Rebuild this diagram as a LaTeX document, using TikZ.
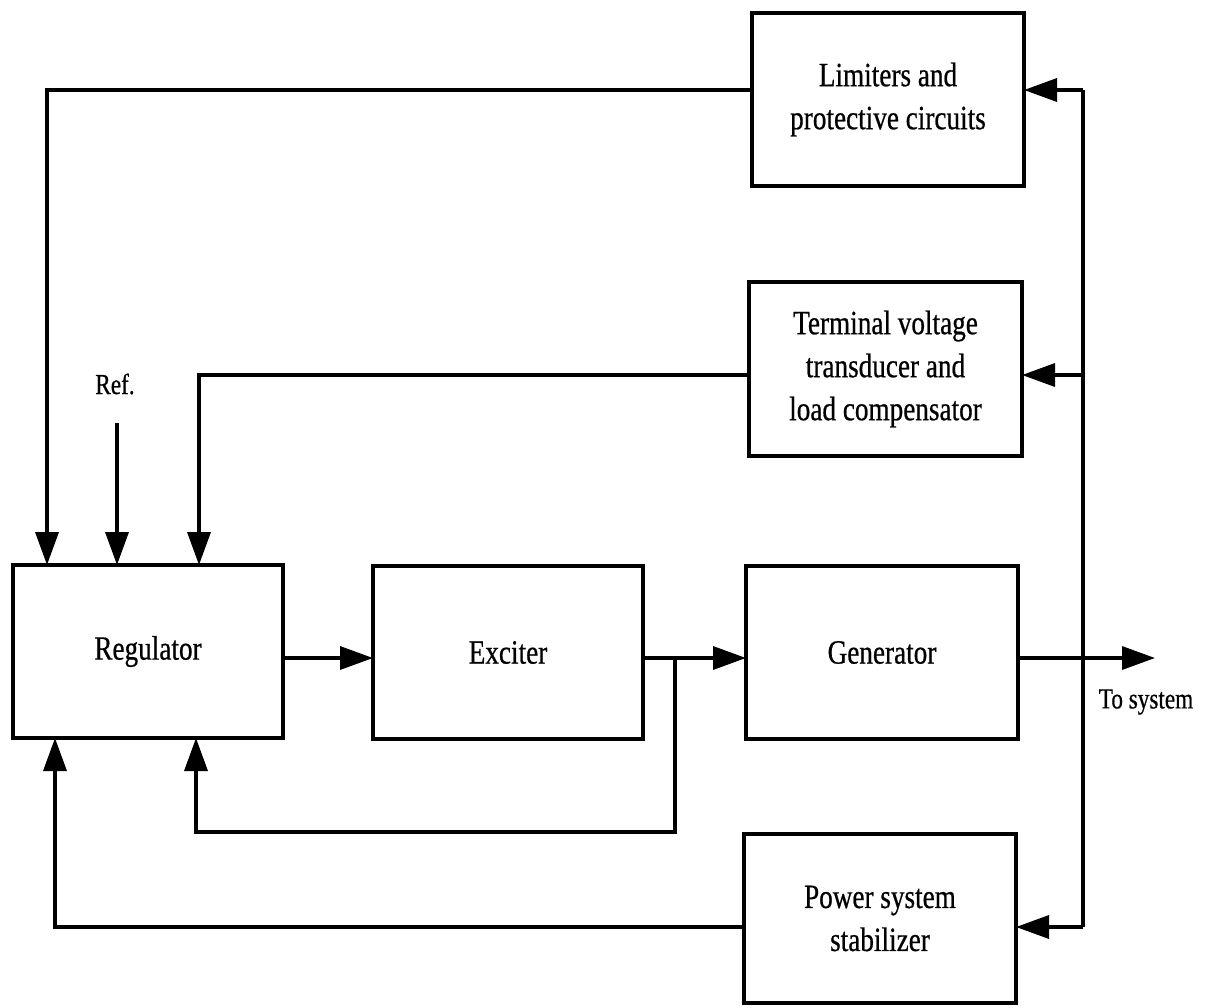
\documentclass[tikz,border=0pt]{standalone}
\usepackage{fontspec}
\setmainfont{Liberation Serif}[FakeStretch=0.8,FakeBold=0.6]
\usetikzlibrary{arrows.meta,calc}
\begin{document}
\begin{tikzpicture}[x=1pt,y=-1pt,
  blk/.style={draw,line width=3.6pt,inner sep=0pt,outer sep=0pt,align=center,
    font=\fontsize{34}{43}\selectfont},
  conn/.style={line width=3.4pt},
  arr/.style={conn,-{Triangle[length=33pt,width=23pt]}},
  lbl/.style={font=\fontsize{29}{35}\selectfont,inner sep=0pt}]
\useasboundingbox (0,0) rectangle (1205,1007);
% blocks
\node[blk,minimum width=272pt,minimum height=173pt] (lim) at (888,99.5) {Limiters and\\protective circuits};
\node[blk,minimum width=273pt,minimum height=174pt] (term) at (885.5,369) {Terminal voltage\\transducer and\\load compensator};
\node[blk,minimum width=270pt,minimum height=173pt] (reg) at (148,651.5) {Regulator};
\node[blk,minimum width=270pt,minimum height=173pt] (exc) at (508,652.5) {Exciter};
\node[blk,minimum width=272pt,minimum height=173pt] (gen) at (882,652.5) {Generator};
\node[blk,minimum width=272pt,minimum height=169pt] (pss) at (880,918.5) {Power system\\stabilizer};
% labels
\node[lbl] (ref) at (115,384) {Ref.};
\node[lbl] (tosys) at (1146,702) {To system};
% coordinates
\coordinate (mainy) at (0,658);
\coordinate (c1) at (47,90);
\coordinate (refs) at (117,423);
\coordinate (c2) at (199,375);
\coordinate (c3) at (675,658);
\coordinate (c4) at (196,832);
\coordinate (c5) at (55,927);
\coordinate (out) at (1155,658);
\coordinate (b1) at (1083,90);
\coordinate (b2) at (1083,375);
\coordinate (b4) at (1083,927);
% connectors
\draw[arr] (lim.west |- c1) -- (c1) -- (reg.north -| c1);
\draw[arr] (refs) -- (reg.north -| refs);
\draw[arr] (term.west |- c2) -- (c2) -- (reg.north -| c2);
\draw[arr] (reg.east |- mainy) -- (exc.west |- mainy);
\draw[arr] (exc.east |- mainy) -- (gen.west |- mainy);
\draw[arr] (c3) -- (c3 |- c4) -- (c4) -- (reg.south -| c4);
\draw[arr] (gen.east |- mainy) -- (out);
\draw[conn] (b1) -- (b4);
\draw[arr] (b1) -- (lim.east |- b1);
\draw[arr] (b2) -- (term.east |- b2);
\draw[arr] (b4) -- (pss.east |- b4);
\draw[arr] (pss.west |- c5) -- (c5) -- (reg.south -| c5);
\end{tikzpicture}
\end{document}
